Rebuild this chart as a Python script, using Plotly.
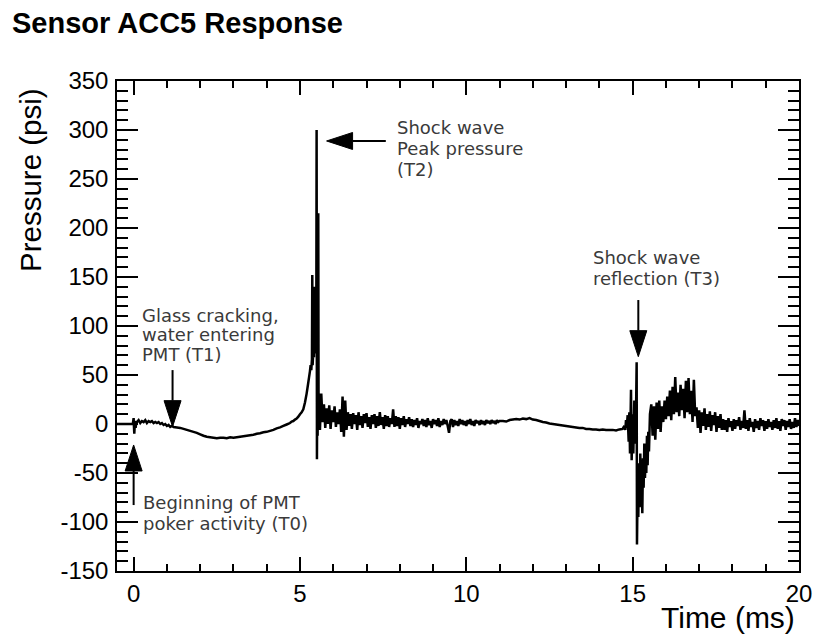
import plotly.graph_objects as go

# ---------------- data ----------------
# pre-trigger + T0 wiggle (explicit times, ms)
t_pre = [-0.50, -0.04, -0.02, 0.00, 0.01, 0.02, 0.04, 0.06, 0.08]
p_pre = [0, 0, 1, 6, -3, -10, 3, -4, 2]

# early segment, t = 0.10 .. 1.20 every 0.05 ms
early_t0, early_dt = 0.10, 0.05
p_early = [2, 4, 1, 3, 2, 4, 1, 3, 2, 3, 1, 2, 1, 2, 0, 1, -1, 0, -2, -1, -3, -2, -3]

# trough, t = 1.3 .. 4.6 every 0.1 ms
trough_t0, trough_dt = 1.3, 0.1
p_trough = [-3.5, -4, -5, -6, -7, -8, -9, -10.5, -12, -13,
            -13.5, -14, -14.5, -14, -14, -14.5, -13.5, -14, -13.5, -13,
            -12.5, -12, -11.5, -11, -10, -9.5, -8.5, -8, -7, -6,
            -4.5, -3.5, -2, -0.5]

# rise and main shock peak (explicit times)
t_peak = [4.70, 4.75, 4.80, 4.85, 4.90, 4.95, 5.00, 5.05, 5.10, 5.15,
          5.20, 5.24, 5.27, 5.30, 5.32, 5.34, 5.36, 5.37, 5.38, 5.40,
          5.42, 5.43, 5.44, 5.46, 5.47, 5.48, 5.49, 5.50, 5.51, 5.52,
          5.53, 5.54, 5.55, 5.56, 5.58]
p_peak = [1, 2.5, 3, 4.5, 5.5, 7.5, 10, 12, 15, 22,
          31, 40, 47, 54, 60, 55, 66, 152, 60, 74,
          68, 140, 82, 95, 72, 112, 88, 300, -36, 45,
          -12, 30, 215, -6, 31]

# post-shock noise, t = 5.60 .. 11.00 every 0.04 ms
post_t0, post_dt = 5.60, 0.04
p_post = ([-6, 31, 2, 20, -4, 16, 0, 19, -5, 14, 2, 18, -3, 12, 0, 15]
          + [-8, 28, -13, 24, -6]
          + [12, -2, 10, -5, 11, 0, 9, -6, 12, -1, 8, -4, 10, 1, 11, -3, 7, -5,
             9, 0, 10, -4, 8, -2, 12, -1, 7, -5, 9, -2, 8, -3, 6, 0, 15]
          + [-3, 8, -2, 7, -5, 6, -1, 8, -3, 5, 0, 7, -2]
          + [5, -3, 4, -1, 6, -4, 3, 0, 5, -2, 4, -3, 6, -1, 3, -4, 5, 0, 4, -2,
             6, -3, 3, -1, 5, 0, 4, -2, -9, 3, 5, -3, 4, -1, 3, -2, 5, 0, 4, -1,
             3, -2, 4, 0, 5, -1, 3, -2, 4, 1, 3, -1, 4, 0, 3, -1, 4, 1, 3, 0,
             4, 1, 3, 0, 4, 2, 3])

# quiet segment, t = 11.1 .. 14.7 every 0.1 ms
quiet_t0, quiet_dt = 11.1, 0.1
p_quiet = [3, 2.5, 4, 4.5, 5, 4.5, 5.5, 5, 6, 4.5,
           4, 3, 2, 1.5, 0.5, 0, -0.5, -1, -1.5, -2,
           -2.5, -3, -3.5, -4, -4, -5, -5, -5.5, -5.5, -6,
           -5.5, -6, -6, -6, -6.5, -5.5, -5]

# reflection (T3), explicit times
t_refl = [14.75, 14.78, 14.80, 14.82, 14.85, 14.88, 14.90, 14.92, 14.95, 14.97,
          15.00, 15.02, 15.05, 15.07, 15.10, 15.12, 15.13, 15.15, 15.17, 15.19,
          15.21, 15.23, 15.25, 15.27, 15.29, 15.31, 15.33, 15.35, 15.37, 15.39,
          15.41, 15.43, 15.45, 15.47, 15.49, 15.52]
p_refl = [-2, -6, 4, -4, 9, -18, 12, -30, 35, -37,
          10, -30, 24, -20, 8, 63, -123, -60, -95, -40,
          -85, -30, -70, -50, -91, -35, -65, -20, -55, -30,
          -50, -12, -42, -8, -28, 10]

# after reflection, t = 15.56 .. 20.00 every 0.04 ms
tail_t0, tail_dt = 15.56, 0.04
p_tail = ([20, -12, 18, -16, 22, -5, 24, -8, 18, 2, 24, 5, 28, 8, 34, 4, 38, 10,
           48, 12, 32, 8, 40, 14, 36, 6, 44, 12, 47, 10, 34, 2, 45, 8]
          + [17, -4, 14, -9, 12, -2, 16, -6, 10, -3, 13, -7, 9, -1, 12, -8, 8, -4, 10, -6]
          + [5, -6, 4, -8, 6, -3, 3, -7, 5, -5, 4, -2, 7, -6, 3, -4, 14, -5, 4, -7,
             6, -3, 2, -8, 5, -4, 3, -6, 6, -2, 4, -7, 3, -5, 5, -3, 2, -6, 4, -4,
             6, -5, 3, -7, 5, -2, 4, -6, 3, -3, 5, -5, 2, -4, 6, -3, 4, -2])

x_ticks = [0, 5, 10, 15, 20]
y_ticks = [-150, -100, -50, 0, 50, 100, 150, 200, 250, 300, 350]


def regular(t0, dt, vals):
    return [round(t0 + i * dt, 4) for i in range(len(vals))]


t_all = (t_pre + regular(early_t0, early_dt, p_early) + regular(trough_t0, trough_dt, p_trough)
         + t_peak + regular(post_t0, post_dt, p_post) + regular(quiet_t0, quiet_dt, p_quiet)
         + t_refl + regular(tail_t0, tail_dt, p_tail))
p_all = p_pre + p_early + p_trough + p_peak + p_post + p_quiet + p_refl + p_tail

# ---------------- figure ----------------
W, H = 816, 634
ML, MR, MT, MB = 117, 17, 81, 63
XR = [-0.5, 20]
YR = [-150, 350]
pw, ph = W - ML - MR, H - MT - MB
sx = pw / (XR[1] - XR[0])
sy = ph / (YR[1] - YR[0])

fig = go.Figure()
fig.add_trace(go.Scatter(x=t_all, y=p_all, mode="lines",
                         line=dict(color="black", width=2.5, simplify=False),
                         hoverinfo="skip", showlegend=False))

AX_FONT = dict(family="Liberation Sans, Arial, sans-serif", size=24, color="black")

fig.update_layout(
    width=W, height=H, margin=dict(l=ML, r=MR, t=MT, b=MB, autoexpand=False),
    paper_bgcolor="white", plot_bgcolor="white",
    xaxis=dict(range=XR, tickvals=x_ticks, ticktext=[str(v) for v in x_ticks],
               ticks="inside", ticklen=14, tickwidth=1.5, automargin=False,
               tickcolor="black", showline=True, linecolor="black", linewidth=1.5,
               mirror="ticks", showgrid=False, zeroline=False, tickfont=AX_FONT,
               ticklabelstandoff=0,
               minor=dict(dtick=1, tick0=0, ticks="inside", ticklen=7, tickwidth=1.5,
                          tickcolor="black", showgrid=False)),
    yaxis=dict(range=YR, tickvals=y_ticks, ticktext=[str(v) for v in y_ticks],
               ticks="inside", ticklen=21, tickwidth=1.5, automargin=False,
               tickcolor="black", showline=True, linecolor="black", linewidth=1.5,
               mirror="ticks", showgrid=False, zeroline=False, tickfont=AX_FONT,
               ticklabelstandoff=2,
               minor=dict(dtick=10, tick0=0, ticks="inside", ticklen=11, tickwidth=1.5,
                          tickcolor="black", showgrid=False)),
)


def px_to_paper(xp, yp):
    return (xp - ML) / pw, (H - MB - yp) / ph


annots = []
tx, ty = px_to_paper(10, 23)
annots.append(dict(text="<b>Sensor ACC5 Response</b>", x=tx, y=ty, xref="paper", yref="paper",
                   xanchor="left", yanchor="middle", showarrow=False,
                   font=dict(family="Liberation Sans, Arial, sans-serif", size=29, color="black")))
tx, ty = px_to_paper(797, 617)
annots.append(dict(text="Time (ms)", x=tx, y=ty, xref="paper", yref="paper",
                   xanchor="right", yanchor="middle", showarrow=False,
                   font=dict(family="Liberation Sans, Arial, sans-serif", size=30, color="black")))
tx, ty = px_to_paper(30, 180)
annots.append(dict(text="Pressure (psi)", x=tx, y=ty, xref="paper", yref="paper", textangle=-90,
                   xanchor="center", yanchor="middle", showarrow=False,
                   font=dict(family="Liberation Sans, Arial, sans-serif", size=29.5, color="black")))

note_font = dict(family="DejaVu Sans, sans-serif", size=18, color="#3a3a3a")
notes = [
    ("Shock wave", 7.85, 303), ("Peak pressure", 7.85, 281.6), ("(T2)", 7.85, 259.2),
    ("Glass cracking,", 0.2, 111), ("water entering", 0.2, 91.5), ("PMT (T1)", 0.2, 71),
    ("Beginning of PMT", 0.22, -80.5), ("poker activity (T0)", 0.22, -102),
    ("Shock wave", 13.76, 169.4), ("reflection (T3)", 13.76, 148),
]
for txt, nx, ny in notes:
    annots.append(dict(text=txt, x=nx, y=ny, xref="x", yref="y", xanchor="left",
                       yanchor="middle", showarrow=False, font=note_font))
fig.update_layout(annotations=annots)

# arrows: (tail_t, tail_p, tip_t, tip_p)
arrows = [
    (0.0, -82.7, 0.0, -21.4),
    (1.17, 55.0, 1.17, -2.7),
    (7.58, 288.8, 5.80, 288.8),
    (15.17, 126.5, 15.17, 68.7),
]
HEAD_L, HEAD_W = 26, 17
shapes = []
for t0, p0, t1, p1 in arrows:
    dxp = (t1 - t0) * sx
    dyp = -(p1 - p0) * sy
    n = (dxp ** 2 + dyp ** 2) ** 0.5
    ux, uy = dxp / n, dyp / n
    bx, by = -ux * HEAD_L, -uy * HEAD_L
    nx_, ny_ = -uy * HEAD_W / 2, ux * HEAD_W / 2

    def to_data(ox, oy):
        return t1 + ox / sx, p1 - oy / sy

    base = to_data(bx, by)
    c1 = to_data(bx + nx_, by + ny_)
    c2 = to_data(bx - nx_, by - ny_)
    shapes.append(dict(type="line", xref="x", yref="y", x0=t0, y0=p0, x1=base[0], y1=base[1],
                       line=dict(color="black", width=2)))
    shapes.append(dict(type="path", xref="x", yref="y",
                       path=f"M {t1} {p1} L {c1[0]} {c1[1]} L {c2[0]} {c2[1]} Z",
                       fillcolor="black", line=dict(color="black", width=1)))
fig.update_layout(shapes=shapes)

fig.write_html("out.html", config={"displayModeBar": False},
               post_script="document.body.style.margin='0';document.body.style.padding='0';")
